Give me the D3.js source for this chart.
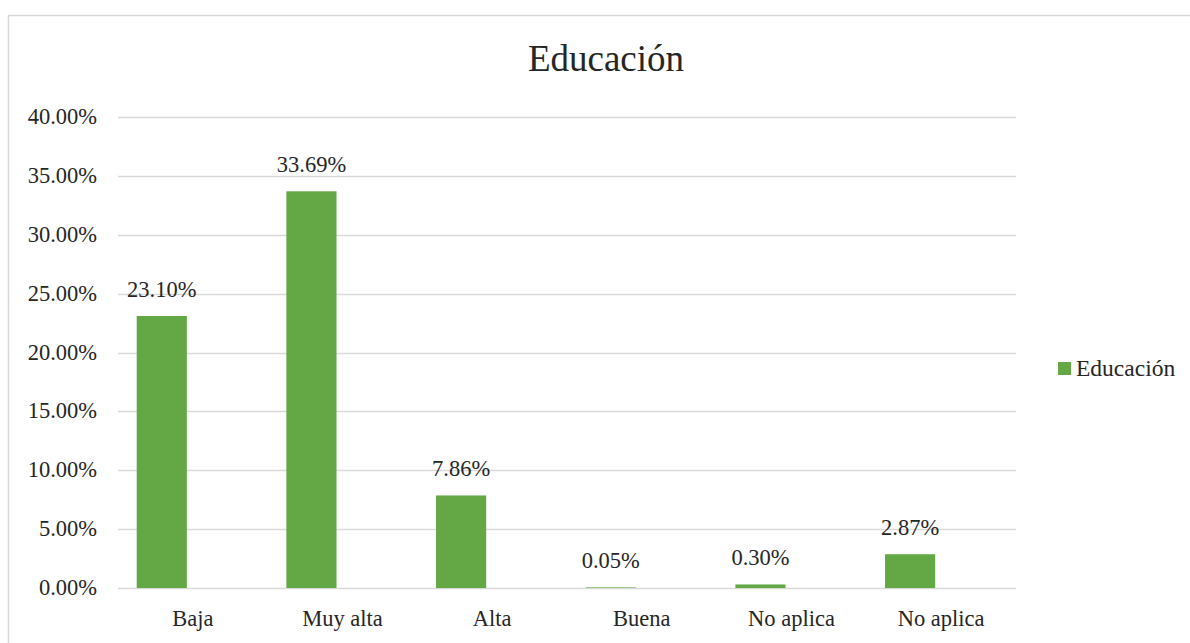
<!DOCTYPE html>
<html><head><meta charset="utf-8">
<script src="https://cdn.jsdelivr.net/npm/d3@7"></script>
<style>html,body{margin:0;padding:0;background:#fff;overflow:hidden}</style>
</head><body>
<svg id="c" width="1190" height="643"></svg>
<script>
const categories = ["Baja","Muy alta","Alta","Buena","No aplica","No aplica"];
const values = [23.10, 33.69, 7.86, 0.05, 0.30, 2.87];
const yTicks = [0,5,10,15,20,25,30,35,40];
const seriesName = "Educación";
const title = "Educación";

(function(){
const green = "#63A844";
const gridCol = "#d9d9d9";
const FONT = '"Liberation Serif", "Tinos", "Times New Roman"';
const textCol = "#262626";

const svg = d3.select("#c");
svg.append("rect").attr("x",8.5).attr("y",15.5).attr("width",1200).attr("height",700)
  .attr("fill","#fff").attr("stroke",gridCol).attr("stroke-width",1.5);

const pL=118, pR=1016, pT=117, pB=588;
const x = d3.scaleBand().domain(d3.range(categories.length)).range([pL,pR]).padding(0);
const y = d3.scaleLinear().domain([0,40]).range([pB,pT]);

function txt(sel, size){
  return sel.style("font-family", FONT).style("font-size", size+"px").style("fill", textCol);
}

svg.append("g").selectAll("line").data(yTicks).join("line")
  .attr("x1",pL).attr("x2",pR)
  .attr("y1",d=>Math.round(y(d))+0.5).attr("y2",d=>Math.round(y(d))+0.5)
  .attr("stroke",gridCol).attr("stroke-width",1.5);

txt(svg.append("g").selectAll("text").data(yTicks).join("text")
  .attr("x",97).attr("y",d=>y(d)+7)
  .attr("text-anchor","end"), 22.5)
  .text(d=>d.toFixed(2)+"%");

const bw = x.bandwidth();
const barX = i => x(i) + bw*0.125;
const barW = bw*0.335;

svg.append("g").selectAll("rect").data(values).join("rect")
  .attr("x",(d,i)=>barX(i)).attr("width",barW)
  .attr("y",d=>y(d)).attr("height",d=>y(0)-y(d))
  .attr("fill",green);

txt(svg.append("g").selectAll("text").data(values).join("text")
  .attr("x",(d,i)=>barX(i)+barW/2).attr("y",d=>y(d)-19)
  .attr("text-anchor","middle"), 22.5)
  .text(d=>d.toFixed(2)+"%");

txt(svg.append("g").selectAll("text").data(categories).join("text")
  .attr("x",(d,i)=>x(i)+bw/2).attr("y",626)
  .attr("text-anchor","middle"), 22.5)
  .text(d=>d);

txt(svg.append("text").attr("x",606).attr("y",71).attr("text-anchor","middle"), 37).text(title);

svg.append("rect").attr("x",1058).attr("y",362).attr("width",13).attr("height",13).attr("fill",green);
txt(svg.append("text").attr("x",1076).attr("y",376), 23.5).text(seriesName);
})();
</script>
</body></html>
